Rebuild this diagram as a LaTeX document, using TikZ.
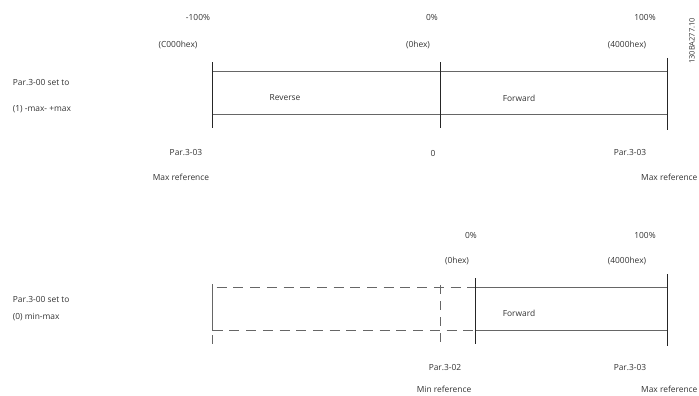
\documentclass[tikz,border=0pt]{standalone}
\usepackage{fontspec}
\setmainfont{Open Sans}
\begin{document}
\begin{tikzpicture}[x=1pt,y=-1pt,
  lbl/.style={font=\fontsize{8.4}{9}\selectfont, text=black!80, inner sep=0pt},
  tick/.style={draw=black!85, line width=1pt},
  hline/.style={draw=black!60, line width=0.9pt},
  dline/.style={draw=black!60, line width=0.9pt, dash pattern=on 10pt off 6.7pt},
  vdash/.style={draw=black!60, line width=0.9pt, dash pattern=on 9pt off 7pt}]
\useasboundingbox (0,0) rectangle (699,396);

% ---------- top diagram ----------
\coordinate (tL1) at (212.7,62.5); \coordinate (tL2) at (212.7,128);
\coordinate (tM1) at (440,62.5);   \coordinate (tM2) at (440,128);
\coordinate (tR1) at (667.3,58);   \coordinate (tR2) at (667.3,130);
\coordinate (tTa) at (212.7,71.7); \coordinate (tTb) at (667.3,71.7);
\coordinate (tBa) at (212.7,114.3); \coordinate (tBb) at (667.3,114.3);
\draw[hline] (tTa) -- (tTb);
\draw[hline] (tBa) -- (tBb);
\draw[tick] (tL1) -- (tL2);
\draw[tick] (tM1) -- (tM2);
\draw[tick] (tR1) -- (tR2);

\node[lbl] (m100) at (198,17) {-100\%};
\node[lbl] (c000) at (178,45) {(C000hex)};
\node[lbl] (z0) at (432,17) {0\%};
\node[lbl] (zhex) at (418,45) {(0hex)};
\node[lbl] (p100) at (645,17) {100\%};
\node[lbl] (h4000) at (627,45) {(4000hex)};
\node[lbl,anchor=west] (par300a) at (12.7,83) {Par.3-00 set to};
\node[lbl,anchor=west] (mode1) at (12.7,109) {(1) -max- +max};
\node[lbl] (rev) at (285,98) {Reverse};
\node[lbl] (fwd1) at (519,98) {Forward};
\node[lbl] (par303a) at (186,153) {Par.3-03};
\node[lbl] (maxref1) at (181,177) {Max reference};
\node[lbl] (zero) at (433,153) {0};
\node[lbl] (par303b) at (630,153) {Par.3-03};
\node[lbl,anchor=west] (maxref2) at (641,177) {Max reference};
\node[lbl,rotate=90,anchor=west,font=\fontsize{7.5}{8}\selectfont] (code) at (692,64) {130BA277.10};

% ---------- bottom diagram ----------
\coordinate (bL1) at (212.7,284); \coordinate (bL2) at (212.7,344);
\coordinate (bD1) at (440,285);   \coordinate (bD2) at (440,345);
\coordinate (bS1) at (475,278);   \coordinate (bS2) at (475,344);
\coordinate (bR1) at (667.3,274); \coordinate (bR2) at (667.3,345.7);
\coordinate (bTa) at (212.7,287.7); \coordinate (bTm) at (475,287.7); \coordinate (bTb) at (667.3,287.7);
\coordinate (bBa) at (212.7,330);   \coordinate (bBm) at (475,330);   \coordinate (bBb) at (667.3,330);
\draw[dline] ([xshift=4pt]bTa) -- (bTm);
\draw[dline] (bBa) -- (bBm);
\draw[draw=black!60, line width=0.9pt, dash pattern=on 47pt off 4pt on 9pt off 4pt] (bL1) -- (bL2);
\draw[vdash] (bD1) -- (bD2);
\draw[hline] (bTm) -- (bTb);
\draw[hline] (bBm) -- (bBb);
\draw[tick] (bS1) -- (bS2);
\draw[tick] (bR1) -- (bR2);

\node[lbl,anchor=west] (par300b) at (12.7,300) {Par.3-00 set to};
\node[lbl,anchor=west] (mode0) at (12.7,317) {(0) min-max};
\node[lbl] (z0b) at (471,235) {0\%};
\node[lbl] (zhexb) at (457,261) {(0hex)};
\node[lbl] (p100b) at (645,235) {100\%};
\node[lbl] (h4000b) at (627,261) {(4000hex)};
\node[lbl] (fwd2) at (519,313) {Forward};
\node[lbl] (par302) at (445,368) {Par.3-02};
\node[lbl] (par303c) at (630,368) {Par.3-03};
\node[lbl] (minref) at (444,389.5) {Min reference};
\node[lbl,anchor=west] (maxref3) at (641,389.5) {Max reference};
\end{tikzpicture}
\end{document}
